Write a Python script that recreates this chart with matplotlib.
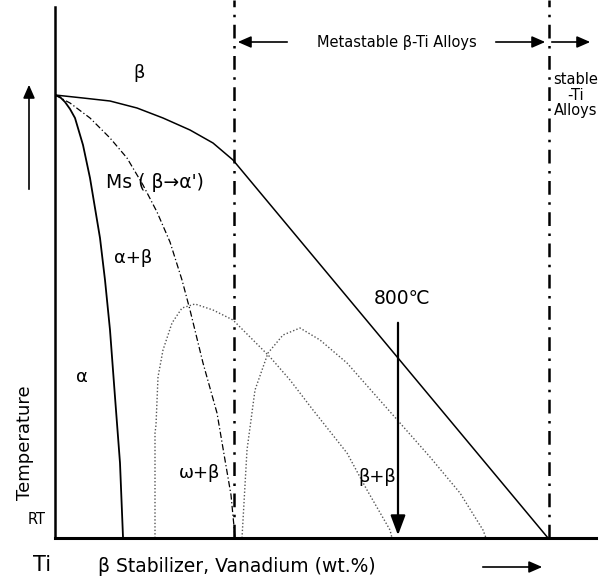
import matplotlib
matplotlib.use("Agg")
import matplotlib.pyplot as plt

plt.rcParams['font.family'] = ['DejaVu Sans']

# schematic units: x = beta stabilizer content, y = temperature (arbitrary)
beta_x = [0, 28, 55, 82, 108, 135, 158, 178, 493]
beta_y = [443, 440, 437, 430, 420, 408, 395, 378, 0]

alpha_x = [0, 5, 10, 15, 20, 28, 35, 40, 45, 50, 55, 60, 65, 68]
alpha_y = [443, 441, 436, 429, 420, 393, 360, 330, 300, 258, 208, 141, 75, 1]

ms_x = [0, 15, 35, 55, 72, 88, 102, 115, 127, 135, 148, 162, 170, 176, 180]
ms_y = [443, 435, 420, 400, 380, 353, 326, 296, 258, 228, 175, 125, 78, 43, 1]

omega1_x = [100, 100, 101, 103, 108, 117, 127, 140, 158, 178, 195, 215, 235, 258, 292, 312, 335, 337]
omega1_y = [0, 105, 113, 161, 188, 215, 230, 234, 228, 218, 201, 181, 158, 128, 85, 48, 8, 0]

omega2_x = [187, 192, 200, 213, 228, 245, 265, 292, 322, 345, 375, 405, 428, 431]
omega2_y = [0, 88, 148, 185, 203, 210, 198, 175, 141, 115, 81, 45, 8, 0]

region_x = [179, 494]           # metastable / stable boundaries
quench_x = 343                  # 800 C arrow
quench_top = 218

fig = plt.figure(figsize=(6.06, 5.83), dpi=100)
ax = fig.add_axes([55/606, 45/583, 541/606, 538/583])
ax.set_xlim(0, 541)
ax.set_ylim(0, 538)
for s in ['top', 'right']:
    ax.spines[s].set_visible(False)
ax.spines['left'].set_bounds(0, 531)
ax.spines['left'].set_linewidth(1.8)
ax.spines['bottom'].set_linewidth(2.2)
ax.set_xticks([])
ax.set_yticks([])

ax.plot(beta_x, beta_y, color='black', lw=1.1)
ax.plot(alpha_x, alpha_y, color='black', lw=1.3)
ax.plot(ms_x, ms_y, color='black', lw=0.9, ls=(0, (5, 2, 1, 2)))
ax.plot(omega1_x, omega1_y, color='#555555', lw=1.0, ls=(0, (1, 1.5)))
ax.plot(omega2_x, omega2_y, color='#555555', lw=1.0, ls=(0, (1, 1.5)))

for x in region_x:
    ax.plot([x, x], [0, 538], color='black', lw=1.8, ls=(0, (5.5, 3, 1, 3)), clip_on=False)

arrow = dict(arrowstyle='-|>,head_length=0.8,head_width=0.35', color='black', lw=1.2)
ax.annotate('', xy=(180, 496), xytext=(235, 496), arrowprops=arrow, annotation_clip=False)
ax.annotate('', xy=(493, 496), xytext=(438, 496), arrowprops=arrow, annotation_clip=False)
ax.annotate('', xy=(538, 496), xytext=(494, 496), arrowprops=arrow, annotation_clip=False)
ax.annotate('', xy=(-26, 456), xytext=(-26, 346), arrowprops=arrow, annotation_clip=False)
ax.annotate('', xy=(490, -29), xytext=(425, -29), arrowprops=arrow, annotation_clip=False)
ax.annotate('', xy=(quench_x, 0), xytext=(quench_x, quench_top),
            arrowprops=dict(arrowstyle='-|>,head_length=1.2,head_width=0.45', color='black', lw=1.6))

ax.text(342, 496, 'Metastable β-Ti Alloys', fontsize=10.5, ha='center', va='center')
ax.text(521, 466, 'stable\n-Ti\nAlloys', fontsize=10.5, ha='center', va='top', linespacing=1.05)
ax.text(347, 240, '800℃', fontsize=13.5, ha='center', va='center')

ax.text(84, 465, 'β', fontsize=13, ha='center', va='center')
ax.text(100, 355, "Ms ( β→α')", fontsize=13.5, ha='center', va='center')
ax.text(78, 280, 'α+β', fontsize=13, ha='center', va='center')
ax.text(27, 161, 'α', fontsize=13, ha='center', va='center')
ax.text(145, 65, 'ω+β', fontsize=13, ha='center', va='center')
ax.text(325, 61, "β+β'", fontsize=13, ha='center', va='center')

ax.text(-30, 95, 'Temperature', fontsize=13, rotation=90, ha='center', va='center')
ax.text(-18, 18, 'RT', fontsize=10.5, ha='center', va='center')
ax.text(-13, -27, 'Ti', fontsize=15, ha='center', va='center')
ax.text(182, -28, 'β Stabilizer, Vanadium (wt.%)', fontsize=13.5, ha='center', va='center')

fig.savefig('out.png', dpi=100)
